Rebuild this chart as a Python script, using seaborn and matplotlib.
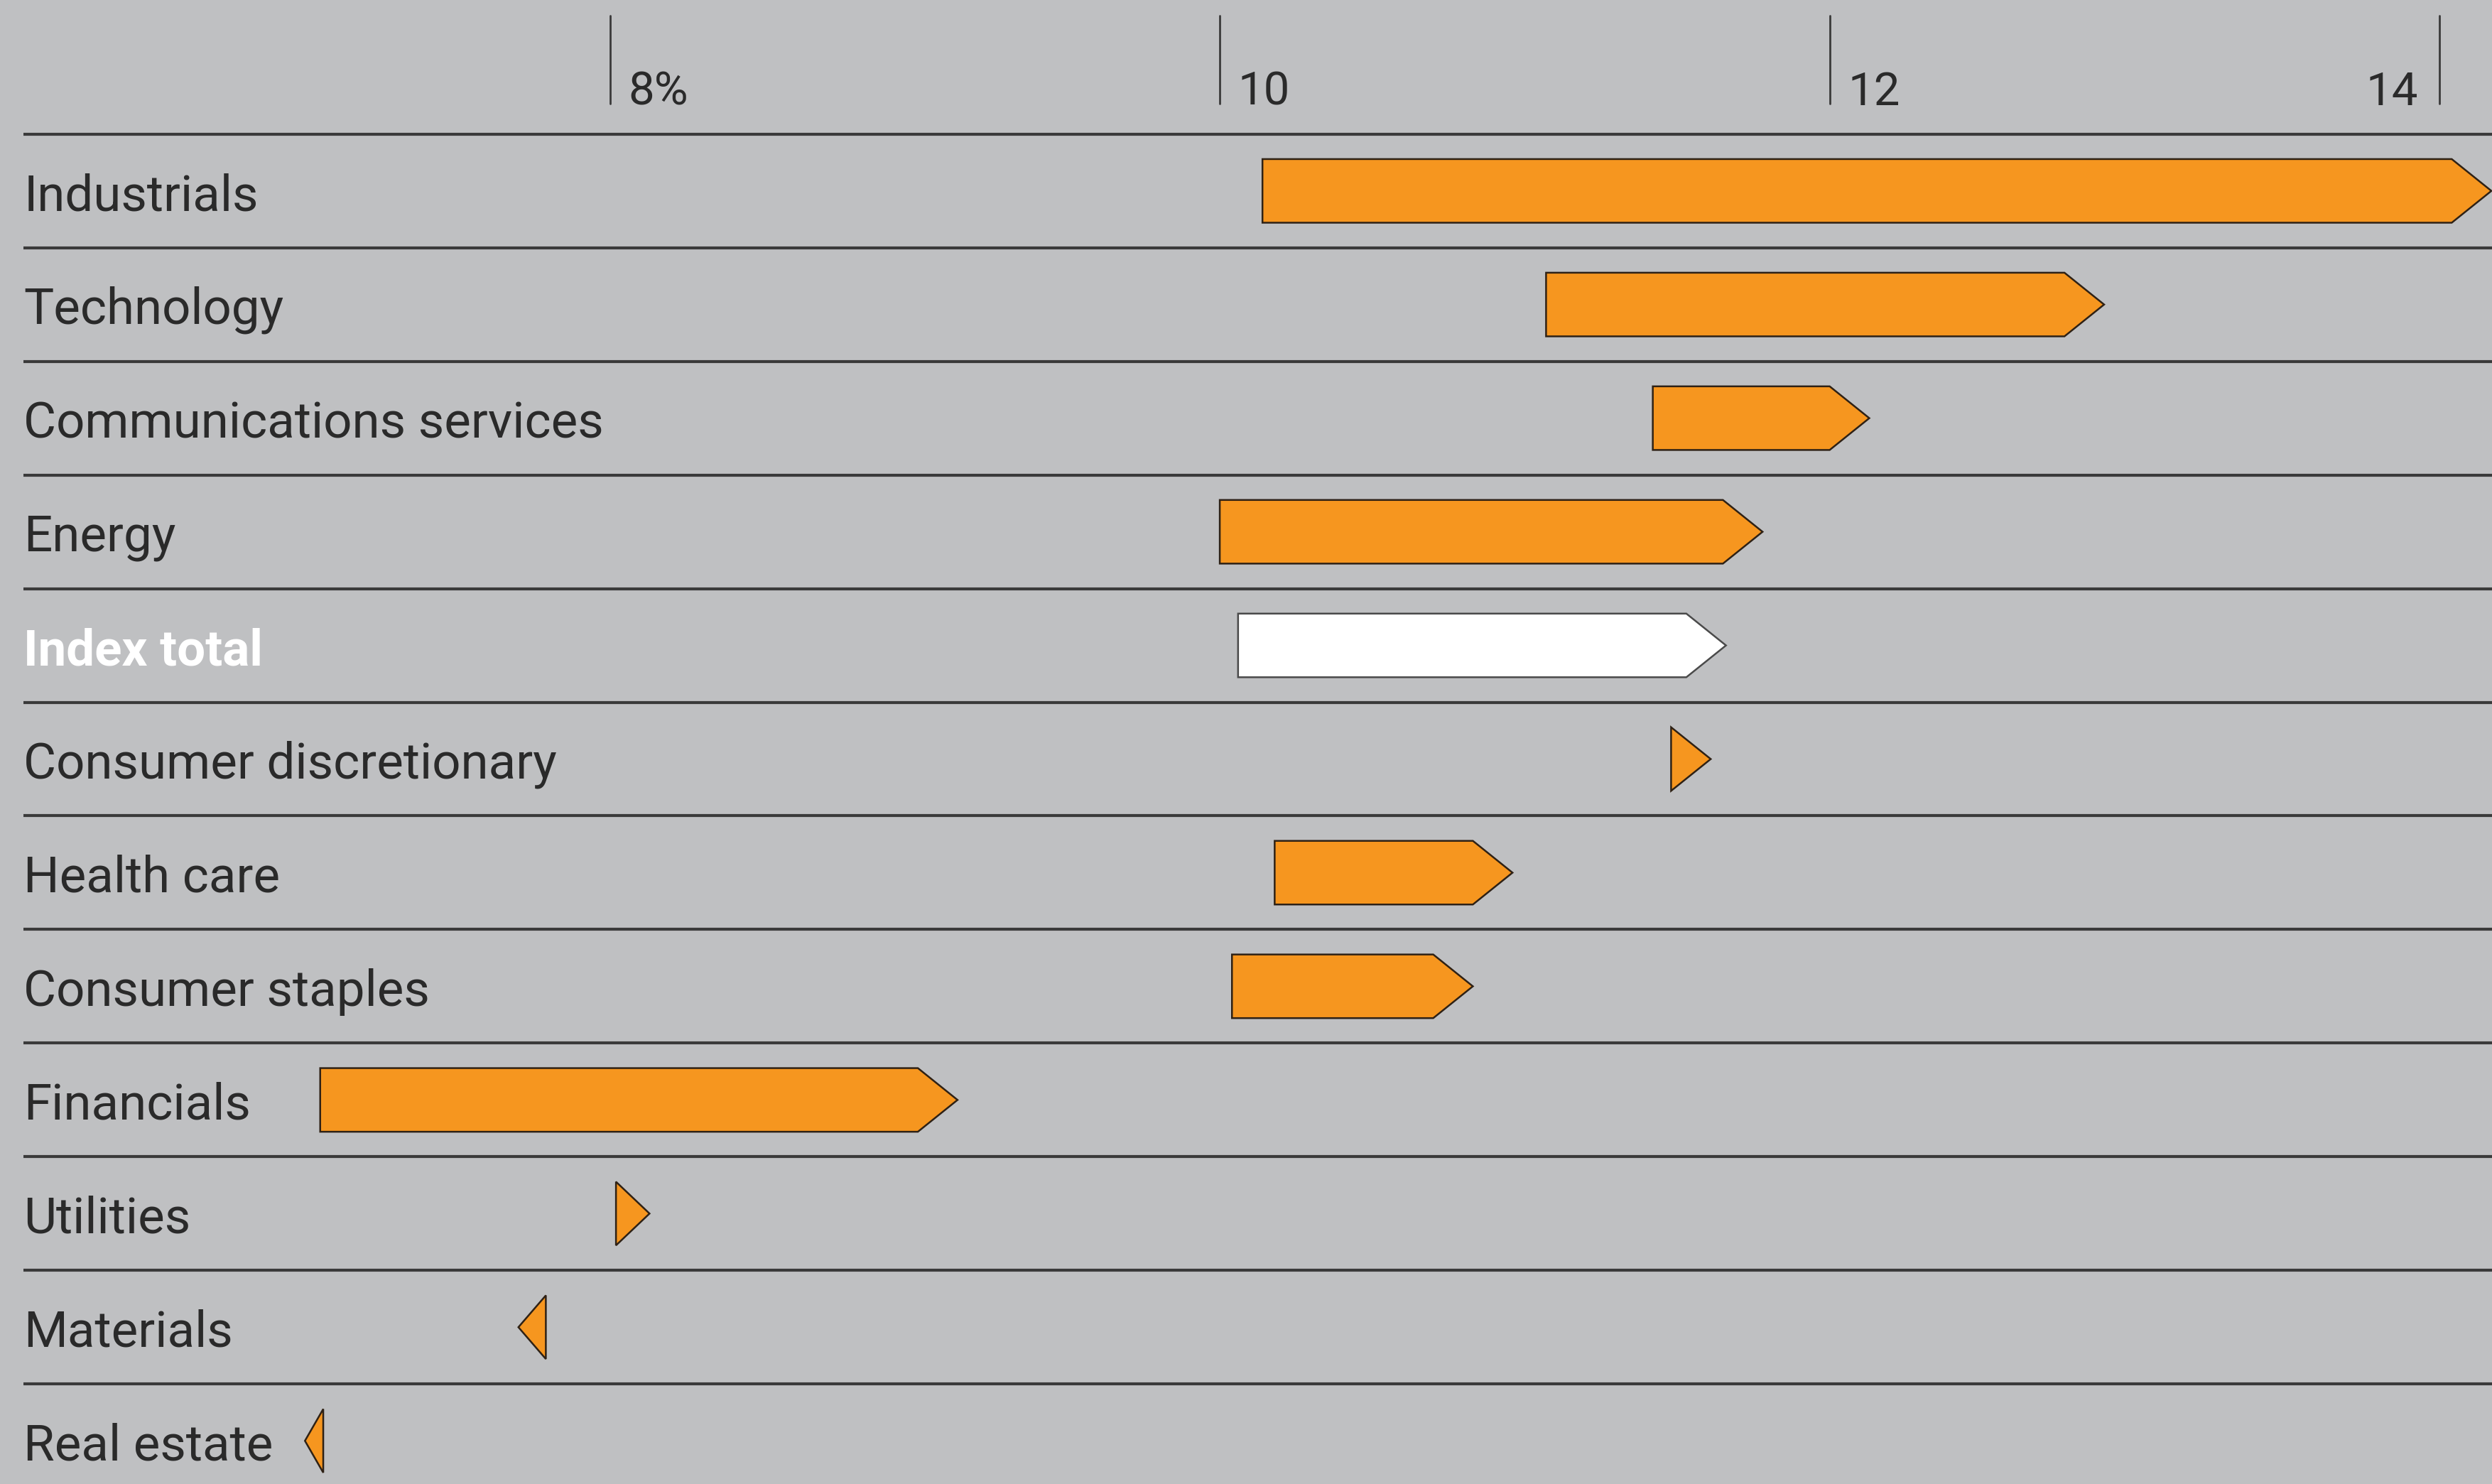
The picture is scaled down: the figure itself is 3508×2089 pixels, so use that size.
import matplotlib
matplotlib.use("Agg")
import matplotlib.pyplot as plt
from matplotlib.patches import Polygon
import seaborn as sns

# Expected return ranges by sector (start -> end, %)
sectors = ["Industrials", "Technology", "Communications services", "Energy",
           "Index total", "Consumer discretionary", "Health care",
           "Consumer staples", "Financials", "Utilities", "Materials",
           "Real estate"]
start_vals = [10.14, 11.07, 11.42, 10.00, 10.06, 11.48, 10.18, 10.04, 7.05, 8.02, 7.79, 7.06]
end_vals = [14.17, 12.90, 12.13, 11.78, 11.66, 11.61, 10.96, 10.83, 9.14, 8.13, 7.70, 7.00]
tick_vals = [8, 10, 12, 14]
tick_labels = ["8%", "10", "12", "14"]
highlight = "Index total"

BG = "#BFC0C2"
ORANGE = "#F6961F"
EDGE = "#2E2115"
LINE = "#3A3A3A"
TEXT = "#2A2A2A"

sns.set_theme(style="white", rc={"axes.facecolor": BG, "figure.facecolor": BG})
plt.rcParams["font.family"] = ["Roboto", "DejaVu Sans"]

fig = plt.figure(figsize=(35.08, 20.89), dpi=100)
ax = fig.add_axes([0, 0, 1, 1])
ax.set_xlim(6.0, 14.172)
ax.set_ylim(11.38, -1.68)
ax.set_axis_off()

HEAD = 0.13   # arrow-head length in data units
BAR_H = 0.56  # bar thickness in row units
X_LEFT = 6.078

# row separators
for i in range(len(sectors)):
    ax.plot([X_LEFT, 14.172], [i - 0.5, i - 0.5], color=LINE, lw=3.0,
            solid_capstyle="butt", zorder=1)

# top scale ticks and labels
for v, lab in zip(tick_vals, tick_labels):
    ax.plot([v, v], [-1.54, -0.77], color=LINE, lw=2.0, zorder=1)
    if v == tick_vals[-1]:
        ax.text(v - 0.07, -0.87, lab, ha="right", va="center", fontsize=47,
                color=TEXT)
    else:
        ax.text(v + 0.06, -0.87, lab, ha="left", va="center", fontsize=47,
                color=TEXT)


def arrow_poly(x0, x1, y):
    d = 1 if x1 >= x0 else -1
    length = abs(x1 - x0)
    h = min(HEAD, length)
    xb = x1 - d * h
    w = BAR_H / 2
    if length <= HEAD:
        pts = [(x0, y - w), (x1, y), (x0, y + w)]
    else:
        pts = [(x0, y - w), (xb, y - w), (x1, y), (xb, y + w), (x0, y + w)]
    return pts


for i, (name, s, e) in enumerate(zip(sectors, start_vals, end_vals)):
    is_hl = name == highlight
    face = "white" if is_hl else ORANGE
    edge = "#4A4A4A" if is_hl else EDGE
    ax.add_patch(Polygon(arrow_poly(s, e, i), closed=True, facecolor=face,
                         edgecolor=edge, lw=1.8, zorder=3, joinstyle="miter"))
    ax.text(X_LEFT, i + 0.05, name, ha="left", va="center", fontsize=51,
            color="white" if is_hl else TEXT,
            fontweight="bold" if is_hl else "normal", zorder=4)

fig.savefig("out.png", dpi=100, facecolor=BG)
